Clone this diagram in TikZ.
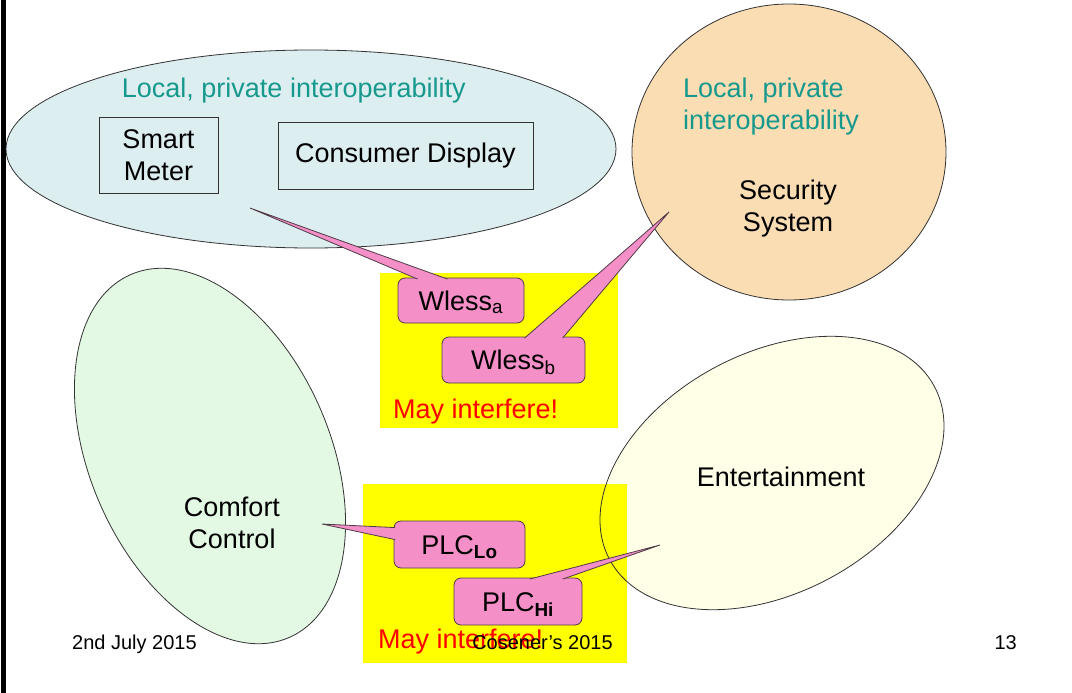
\documentclass[tikz,border=0pt]{standalone}
\usepackage{fontspec}
\setmainfont{Liberation Sans}
\usetikzlibrary{shapes.geometric,calc}

\definecolor{skyfill}{RGB}{221,238,241}
\definecolor{peachfill}{RGB}{251,221,180}
\definecolor{mintfill}{RGB}{228,249,228}
\definecolor{ivoryfill}{RGB}{255,255,232}
\definecolor{zonefill}{RGB}{255,255,0}
\definecolor{calloutfill}{RGB}{244,143,200}
\definecolor{calloutedge}{RGB}{80,60,70}
\definecolor{tealtext}{RGB}{22,153,140}
\definecolor{edgegray}{RGB}{50,50,50}
\definecolor{alertred}{RGB}{255,0,0}

\begin{document}
\begin{tikzpicture}[x=1pt,y=-1pt,
  big/.style={font=\fontsize{27}{32}\selectfont},
  foot/.style={font=\fontsize{20}{24}\selectfont},
  region/.style={ellipse, inner sep=0pt, line width=0.8pt, draw=edgegray},
  device/.style={rectangle, draw=edgegray, line width=0.8pt, inner sep=0pt, big, align=center},
  zone/.style={rectangle, fill=zonefill, inner sep=0pt},
  callbox/.style={rectangle, rounded corners=7pt, fill=calloutfill, draw=calloutedge,
    line width=0.8pt, inner sep=0pt, big, text height=19pt, text depth=0pt},
  tail/.style={fill=calloutfill, draw=calloutedge, line width=0.8pt},
]
\useasboundingbox (0,0) rectangle (1072,693);
\fill[white] (0,0) rectangle (1072,693);
\fill[black] (1,0) rectangle (6,693);

% metering network
\node[region, fill=skyfill, minimum width=610pt, minimum height=198pt] (meterzone) at (311,149) {};
\node[big, text=tealtext, anchor=base, inner sep=0pt] (meterlabel) at (293.8,98) {Local, private interoperability};
\node[device, minimum width=119pt, minimum height=76pt] (meter) at (158.5,155.5) {Smart\\Meter};
\node[device, minimum width=255pt, minimum height=67pt] (display) at (405.5,155.5) {Consumer Display};

% security network
\node[region, fill=peachfill, minimum width=314pt, minimum height=296pt] (security) at (789,152) {};
\node[big, text=tealtext, align=left, anchor=north west, inner sep=0pt] (securitylabel) at (683,78) {Local, private\\interoperability};
\node[big, align=center, inner sep=0pt] (securityname) at (788,209) {Security\\System};

% comfort network
\node[region, fill=mintfill, minimum width=240pt, minimum height=396pt, rotate=23.6] (comfort) at (210,456) {};
\node[big, align=center, inner sep=0pt] (comfortname) at (232,523) {Comfort\\Control};

% entertainment network (fill first, outline above the zone)
\node[region, draw=none, fill=ivoryfill, minimum width=368pt, minimum height=240pt, rotate=28] (ent) at (772,473) {};

% interference zones
\node[zone, minimum width=238pt, minimum height=155pt] (wzone) at (499,350.5) {};
\node[zone, minimum width=264pt, minimum height=179pt] (pzone) at (495,573.5) {};

\node[region, fill=none, minimum width=368pt, minimum height=240pt, rotate=28] (entoutline) at (ent.center) {};
\node[big, anchor=base, inner sep=0pt] (entname) at (781,486) {Entertainment};

% wireless links
\node[callbox, minimum width=126pt, minimum height=45pt] (wlessa) at (461,300.5) {Wless\textsubscript{a}};
\coordinate (tipa) at (250,208);
\path[tail] ($(wlessa.north west)+(20,1.5)$) -- (tipa) -- ($(wlessa.north west)+(50,1.5)$);

\node[callbox, minimum width=143pt, minimum height=46pt] (wlessb) at (513.5,360) {Wless\textsubscript{b}};
\coordinate (tipb) at (669,212);
\path[tail] ($(wlessb.north west)+(83,1.5)$) -- (tipb) -- ($(wlessb.north west)+(121,1.5)$);

\node[big, text=alertred, anchor=base west, inner sep=0pt] (warnw) at (393,418) {May interfere!};

% powerline links
\node[callbox, minimum width=131pt, minimum height=47pt] (plclo) at (459.5,544.5) {PLC\textsubscript{\bfseries Lo}};
\coordinate (tiplo) at (322,524);
\path[tail] ($(plclo.north west)+(1.5,7)$) -- (tiplo) -- ($(plclo.north west)+(1.5,19)$);

\node[callbox, minimum width=128pt, minimum height=47pt] (plchi) at (518,601.5) {PLC\textsubscript{\bfseries Hi}};
\coordinate (tiphi) at (660,545);
\path[tail] ($(plchi.north west)+(76,1.5)$) -- (tiphi) -- ($(plchi.north west)+(109,1.5)$);

\node[big, text=alertred, anchor=base west, inner sep=0pt] (warnp) at (378,648) {May interfere!};

% footer
\node[foot, anchor=base west, inner sep=0pt] (date) at (72,649) {2nd July 2015};
\node[foot, anchor=base, inner sep=0pt] (venue) at (542.5,649) {Cosener's 2015};
\node[foot, anchor=base east, inner sep=0pt] (page) at (1017,649) {13};
\end{tikzpicture}
\end{document}
